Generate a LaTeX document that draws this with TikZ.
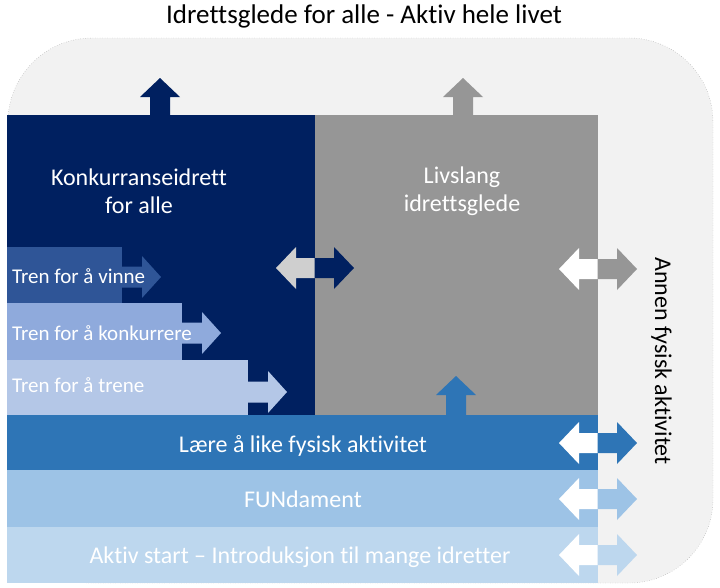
\documentclass[tikz,border=0pt]{standalone}
\usepackage{fontspec}
\setmainfont{Carlito}[Ligatures=NoCommon]
\usetikzlibrary{positioning}
\definecolor{navyblock}{HTML}{002060}
\definecolor{greyblock}{HTML}{969696}
\definecolor{paleblock}{HTML}{CFCFCF}
\definecolor{vinblue}{HTML}{2F5597}
\definecolor{konblue}{HTML}{8FAADC}
\definecolor{trenblue}{HTML}{B4C7E7}
\definecolor{laereblue}{HTML}{2E75B6}
\definecolor{funblue}{HTML}{9DC3E6}
\definecolor{startblue}{HTML}{BDD7EE}
\definecolor{backdrop}{HTML}{F2F2F2}
\tikzset{
  frame/.style    = {fill=backdrop, draw=gray!75, dotted, line width=0.45pt, rounded corners=84pt},
  bigtxt/.style   = {font=\fontsize{24}{28}\selectfont, text=white, align=center},
  bandtxt/.style  = {font=\fontsize{24}{28}\selectfont, text=white, inner sep=0pt, anchor=base},
  stairtxt/.style = {font=\fontsize{21}{25}\selectfont, text=white, inner sep=0pt, anchor=base west},
}
% double block arrow, split in two colours at its centre
\newcommand{\twoway}[4]{%
  \pgfmathsetmacro{\arx}{#1}
  \pgfmathsetmacro{\ary}{#2}
  \fill[#3] (\arx,\ary-10) -- (\arx-19,\ary-10) -- (\arx-19,\ary-21) -- (\arx-39,\ary)
    -- (\arx-19,\ary+21) -- (\arx-19,\ary+10) -- (\arx,\ary+10) -- cycle;
  \fill[#4] (\arx-0.4,\ary-10) -- (\arx+19,\ary-10) -- (\arx+19,\ary-21) -- (\arx+39,\ary)
    -- (\arx+19,\ary+21) -- (\arx+19,\ary+10) -- (\arx-0.4,\ary+10) -- cycle;
}
% block arrow pointing up
\newcommand{\riseup}[4]{%
  \fill[#4] (#1-10,#3) -- (#1-10,#2+19) -- (#1-20,#2+19) -- (#1,#2)
    -- (#1+20,#2+19) -- (#1+10,#2+19) -- (#1+10,#3) -- cycle;
}
% arrow head growing out of a step
\newcommand{\stairhead}[3]{%
  \fill[#3] (#1-1,#2-10.5) -- (#1+20,#2-10.5) -- (#1+20,#2-21) -- (#1+39,#2)
    -- (#1+20,#2+21) -- (#1+20,#2+10.5) -- (#1-1,#2+10.5) -- cycle;
}
\begin{document}
\begin{tikzpicture}[x=1pt, y=-1pt]
  \useasboundingbox (0,0) rectangle (720,587);
  \path[frame] (8,583) -- (8,38) -- (713,38) -- (713,583) -- cycle;
  \node (title) [font=\fontsize{27}{32}\selectfont, inner sep=0pt, anchor=base] at (364,23)
    {Idrettsglede for alle - Aktiv hele livet};

  % top blocks
  \fill[navyblock] (7,115) rectangle (315,416);
  \fill[greyblock] (315,115) rectangle (598,416);
  \riseup{160}{78}{116}{navyblock}
  \riseup{463}{78}{116}{greyblock}
  \node (konk) [bigtxt] at (139,191) {Konkurranseidrett\\for alle};
  \node (livs) [bigtxt] at (462,191) {Livslang\\idrettsglede};

  % steps
  \fill[vinblue] (7,247) rectangle (122,303);
  \stairhead{122}{277}{vinblue}
  \fill[konblue] (7,303) rectangle (182,360);
  \stairhead{182}{333}{konblue}
  \fill[trenblue] (7,360) rectangle (248,416);
  \stairhead{248}{392}{trenblue}
  \node (vinne)   [stairtxt] at (12,283) {Tren for å vinne};
  \node (konkurr) [stairtxt] at (12,340) {Tren for å konkurrere};
  \node (trene)   [stairtxt] at (12,392) {Tren for å trene};

  \twoway{315}{268}{paleblock}{navyblock}
  \riseup{456}{376}{416}{laereblue}

  % bands
  \fill[laereblue] (7,415) rectangle (598,470);
  \fill[funblue]   (7,470) rectangle (598,527);
  \fill[startblue] (7,527) rectangle (598,583);
  \node (laere) [bandtxt] at (303,452) {Lære å like fysisk aktivitet};
  \node (fun)   [bandtxt] at (303,507) {FUNdament};
  \node (start) [bandtxt] at (300,563) {Aktiv start – Introduksjon til mange idretter};

  % links out to other activity
  \twoway{598}{269}{white}{greyblock}
  \twoway{598}{443}{white}{laereblue}
  \twoway{598}{499}{white}{funblue}
  \twoway{598}{555}{white}{startblue}
  \node (annen) [font=\fontsize{24}{28}\selectfont, inner sep=0pt, anchor=base, rotate=-90]
    at (655,361) {Annen fysisk aktivitet};
\end{tikzpicture}
\end{document}
